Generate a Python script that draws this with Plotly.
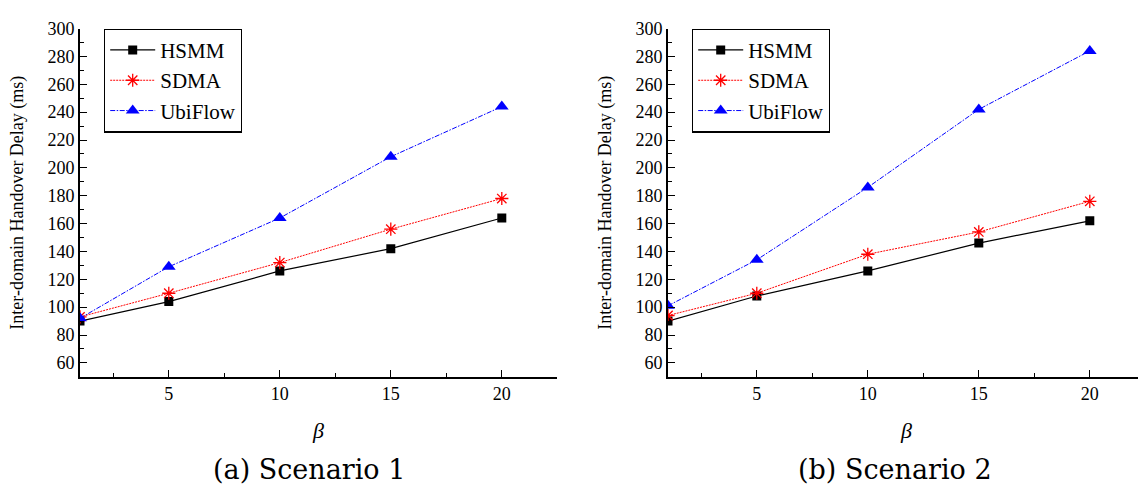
import plotly.graph_objects as go

# beta values (x) shared by both scenarios
beta = [1, 5, 10, 15, 20]

# Scenario 1: inter-domain handover delay (ms)
s1_hsmm = [90, 104, 126, 142, 164]
s1_sdma = [93, 110, 132, 156, 178]
s1_ubiflow = [92, 129, 164, 208, 244]

# Scenario 2: inter-domain handover delay (ms)
s2_hsmm = [90, 108, 126, 146, 162]
s2_sdma = [94, 110, 138, 154, 176]
s2_ubiflow = [101, 134, 186, 242, 284]

series_names = ["HSMM", "SDMA", "UbiFlow"]
captions = ["(a) Scenario 1", "(b) Scenario 2"]
y_title = "Inter-domain Handover Delay (ms)"

W, H = 1138, 486
SERIF = '"Liberation Serif", "Times New Roman", serif'
CAPTION_FONT = '"DejaVu Serif", serif'

styles = [
    dict(color="black", dash="solid", symbol="square", size=9, width=1.2),
    dict(color="#ff0000", dash="2px,1px", symbol="asterisk-open", size=11, width=1),
    dict(color="#0000ff", dash="5px,1.5px,1.5px,1.5px", symbol="triangle-up", size=12, width=1),
]

fig = go.Figure()

panels = [
    dict(data=[s1_hsmm, s1_sdma, s1_ubiflow], xa="x", ya="y", legend="legend"),
    dict(data=[s2_hsmm, s2_sdma, s2_ubiflow], xa="x2", ya="y2", legend="legend2"),
]

for p in panels:
    for name, vals, st in zip(series_names, p["data"], styles):
        fig.add_trace(go.Scatter(
            x=beta, y=vals, name=name, mode="lines+markers",
            xaxis=p["xa"], yaxis=p["ya"], legend=p["legend"],
            line=dict(color=st["color"], width=st["width"], dash=st["dash"]),
            marker=dict(symbol=st["symbol"], size=st["size"], color=st["color"],
                        line=dict(color=st["color"], width=1.3 if st["symbol"] == "asterisk-open" else 0)),
        ))

# plot areas in pixels
left_px = [(80, 556.8), (668, 1138)]
top_px, bottom_px = 19, 374.5
px_per_unit = 22.2
y_dom = [(H - bottom_px) / H, (H - top_px) / H]


def xaxis_cfg(x0, x1, anchor):
    return dict(
        domain=[x0 / W, x1 / W], anchor=anchor,
        range=[1, 1 + (x1 - x0) / px_per_unit],
        showline=True, linecolor="black", linewidth=1.6,
        showgrid=False, zeroline=False,
        ticks="inside", ticklen=7, tickwidth=1.2, tickcolor="black",
        tick0=0, dtick=5,
        minor=dict(ticks="inside", ticklen=4, tickwidth=1.1, tickcolor="black", tick0=0, dtick=2.5),
        tickfont=dict(family=SERIF, size=18, color="black"),
    )


def yaxis_cfg(anchor):
    return dict(
        domain=y_dom, range=[50, 300], anchor=anchor,
        showline=True, linecolor="black", linewidth=1.6,
        showgrid=False, zeroline=False,
        ticks="inside", ticklen=7, tickwidth=1.2, tickcolor="black",
        tick0=0, dtick=20,
        minor=dict(ticks="inside", ticklen=4, tickwidth=1.1, tickcolor="black", tick0=0, dtick=10),
        tickfont=dict(family=SERIF, size=18, color="black"),
    )


legend_common = dict(
    xanchor="left", yanchor="top", y=(H - top_px) / H,
    bgcolor="white", bordercolor="black", borderwidth=1.2,
    font=dict(family=SERIF, size=21, color="black"),
    tracegroupgap=0, itemwidth=45,
)

fig.update_layout(
    width=W, height=H,
    margin=dict(l=0, r=0, t=0, b=0),
    paper_bgcolor="white", plot_bgcolor="white",
    showlegend=True,
    xaxis=xaxis_cfg(*left_px[0], "y"),
    yaxis=yaxis_cfg("x"),
    xaxis2=xaxis_cfg(*left_px[1], "y2"),
    yaxis2=yaxis_cfg("x2"),
    legend=dict(x=104 / W, **legend_common),
    legend2=dict(x=692 / W, **legend_common),
)

# axis titles and sub-captions
ann = []
for (x0, x1), cap, beta_x, cap_x in zip(left_px, captions, [318, 906], [309, 895]):
    ann.append(dict(x=(x0 - 62) / W, y=(H - (top_px + bottom_px) / 2) / H,
                    xref="paper", yref="paper", text=y_title, textangle=-90,
                    showarrow=False, xanchor="center", yanchor="middle",
                    font=dict(family=SERIF, size=18, color="black")))
    ann.append(dict(x=beta_x / W, y=(H - 429) / H, xref="paper", yref="paper",
                    text="<i>β</i>", showarrow=False, xanchor="center", yanchor="middle",
                    font=dict(family=SERIF, size=22, color="black")))
    ann.append(dict(x=cap_x / W, y=(H - 469) / H, xref="paper", yref="paper",
                    text=cap, showarrow=False, xanchor="center", yanchor="middle",
                    font=dict(family=CAPTION_FONT, size=27, color="black")))
fig.update_layout(annotations=ann)

fig.write_html("out.html")
